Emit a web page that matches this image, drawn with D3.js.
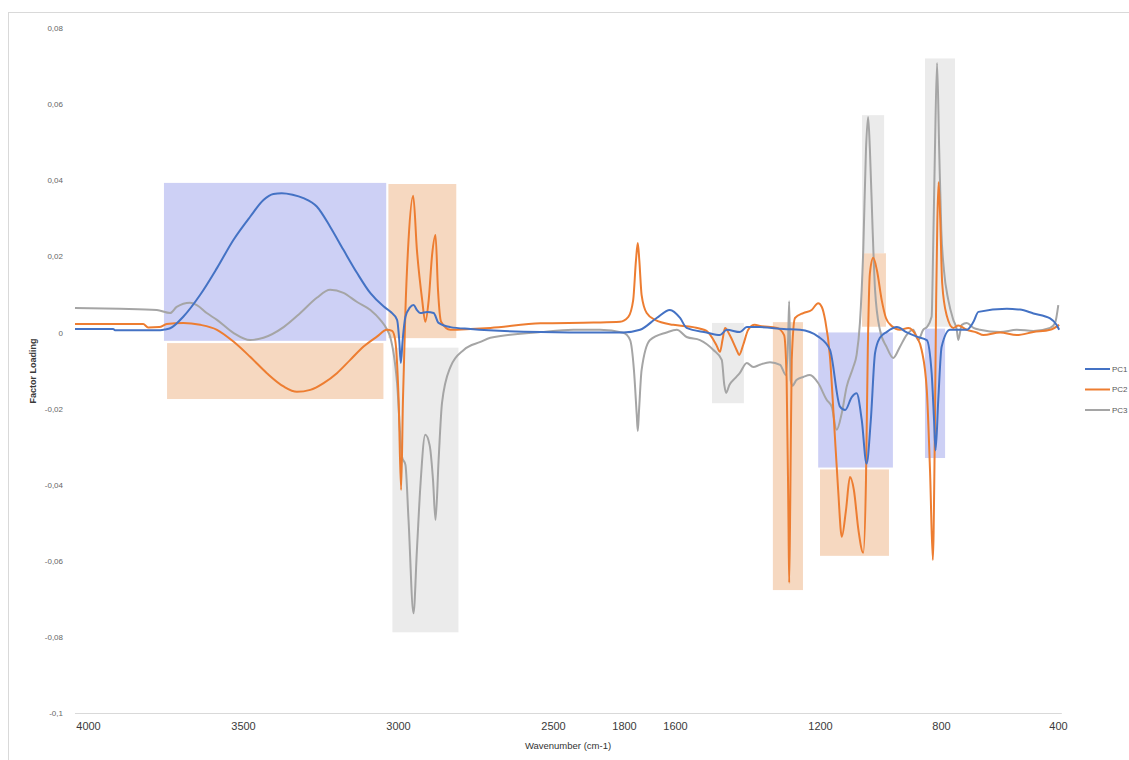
<!DOCTYPE html>
<html>
<head>
<meta charset="utf-8">
<script src="https://cdn.jsdelivr.net/npm/d3@7"></script>
<style>
  html, body { margin: 0; padding: 0; background: #fff; }
  svg { display: block; font-family: "Liberation Sans", Arial, sans-serif; }
</style>
</head>
<body>
<svg id="chart" width="1129" height="760"></svg>
<script>
// Wavenumber axis: label values (the axis is broken, so each label is its own anchor)
const xTickValues = [4000, 3500, 3000, 2500, 1800, 1600, 1200, 800, 400];
const xTickLabels = ["4000", "3500", "3000", "2500", "1800", "1600", "1200", "800", "400"];
const yTickValues = [0.08, 0.06, 0.04, 0.02, 0, -0.02, -0.04, -0.06, -0.08, -0.1];
const yTickLabels = ["0,08", "0,06", "0,04", "0,02", "0", "-0,02", "-0,04", "-0,06", "-0,08", "-0,1"];
const spectrumRange = [4042, 387];
const seriesNames = ["PC1", "PC2", "PC3"];

// Loadings: [wavenumber cm-1, factor loading]
const pc1 = [[4042,0.0009],[3919,0.0009],[3913,0.0006],[3767,0.0006],[3750,0.0008],[3735,0.0011],[3692,0.0042],[3638,0.0099],[3584,0.0169],[3531,0.0243],[3477,0.0304],[3434,0.0348],[3402,0.0364],[3375,0.0366],[3340,0.0362],[3305,0.0353],[3262,0.0331],[3219,0.0278],[3176,0.0217],[3132,0.0156],[3089,0.0103],[3046,0.0068],[3025,0.0055],[3003,0.0033],[2996,-0.002],[2991,-0.008],[2985,-0.002],[2976,0.0041],[2962,0.0065],[2950,0.0072],[2938,0.0058],[2928,0.0051],[2906,0.0054],[2885,0.0051],[2869,0.0025],[2831,0.0014],[2766,0.0009],[2540,0.0001],[2200,0],[1807,0],[1737,0.0007],[1672,0.0038],[1620,0.0059],[1586,0.0038],[1568,0.0012],[1513,0],[1476,-0.0007],[1457,0.0007],[1421,0.0001],[1402,0.0014],[1366,0.0014],[1300,0.0009],[1255,0.0007],[1205,-0.0011],[1167,-0.0046],[1134,-0.0195],[1117,-0.0204],[1095,-0.017],[1079,-0.016],[1062,-0.023],[1046,-0.0345],[1032,-0.023],[1018,-0.0054],[1002,-0.0014],[980,0.0001],[946,0.0014],[913,0],[880,-0.0011],[847,-0.002],[831,-0.0106],[823,-0.023],[818,-0.031],[809,-0.0177],[798,-0.0038],[769,0.0007],[712,0.0007],[689,0.0028],[672,0.0054],[575,0.0062],[530,0.006],[484,0.005],[427,0.0037],[405,0.002],[396,0.0007]];

const pc2 = [[4042,0.0022],[3822,0.0022],[3806,0.0013],[3770,0.0014],[3746,0.0022],[3692,0.0025],[3638,0.002],[3584,0.0007],[3531,-0.0024],[3477,-0.0064],[3423,-0.0107],[3369,-0.0142],[3326,-0.0156],[3283,-0.0151],[3240,-0.0133],[3197,-0.0107],[3154,-0.0072],[3111,-0.0037],[3068,-0.0011],[3036,0.0007],[3019,0.0004],[3009,-0.002],[2998,-0.0177],[2990,-0.0414],[2984,-0.0177],[2976,0.0059],[2966,0.0243],[2951,0.0359],[2939,0.0217],[2922,0.0085],[2912,0.0028],[2901,0.0085],[2890,0.0204],[2879,0.0256],[2871,0.0112],[2861,0.0028],[2831,0.0007],[2766,0.0009],[2702,0.0012],[2540,0.0024],[2100,0.0026],[1839,0.0028],[1783,0.0041],[1764,0.0085],[1753,0.019],[1746,0.0235],[1740,0.019],[1731,0.0099],[1711,0.0051],[1678,0.0033],[1607,0.002],[1550,0.0014],[1513,0.0004],[1486,-0.0033],[1476,-0.0051],[1469,-0.002],[1462,0.0012],[1449,-0.0007],[1430,-0.0046],[1423,-0.0059],[1412,-0.0033],[1398,0.0007],[1380,0.002],[1366,0.0017],[1319,0.0012],[1299,-0.0007],[1292,-0.0125],[1287,-0.0493],[1285,-0.0658],[1282,-0.044],[1278,-0.0072],[1269,0.0038],[1246,0.0051],[1223,0.0059],[1205,0.0077],[1194,0.0067],[1183,0.0033],[1167,-0.0064],[1154,-0.023],[1140,-0.0414],[1128,-0.0537],[1114,-0.0466],[1101,-0.038],[1088,-0.0414],[1073,-0.0519],[1057,-0.0579],[1048,-0.0388],[1042,-0.0046],[1035,0.0156],[1024,0.0196],[1012,0.0164],[996,0.0085],[982,0.0038],[963,0.0017],[936,0.0007],[908,0.0012],[880,-0.0012],[864,-0.0046],[847,-0.0151],[836,-0.037],[827,-0.0598],[821,-0.031],[816,0.0085],[812,0.0296],[808,0.0395],[803,0.0309],[796,0.013],[781,0.0046],[758,0.0012],[741,0.0018],[712,0.0007],[678,0],[655,-0.0007],[598,0],[541,-0.0007],[484,0.0001],[427,0.0007],[396,0.002]];

const pc3 = [[4042,0.0064],[3897,0.0062],[3778,0.0059],[3735,0.0051],[3714,0.0067],[3671,0.0078],[3649,0.0072],[3617,0.0051],[3584,0.0033],[3531,-0.0001],[3477,-0.002],[3434,-0.0014],[3369,0.0014],[3315,0.0051],[3262,0.0091],[3219,0.0112],[3176,0.0104],[3132,0.008],[3089,0.0059],[3057,0.0033],[3035,0.0007],[3025,-0.0012],[3003,-0.0133],[2987,-0.0327],[2976,-0.0348],[2966,-0.0493],[2950,-0.0738],[2939,-0.0572],[2928,-0.0406],[2912,-0.0269],[2898,-0.0296],[2887,-0.0388],[2879,-0.0493],[2869,-0.0335],[2858,-0.0185],[2831,-0.0091],[2788,-0.0046],[2734,-0.0025],[2702,-0.0014],[2540,0.0001],[2300,0.0007],[2037,0.0007],[1807,-0.0001],[1776,-0.002],[1761,-0.0099],[1750,-0.0217],[1746,-0.0259],[1741,-0.0204],[1731,-0.0099],[1698,-0.002],[1633,0],[1595,0.0007],[1568,-0.0012],[1531,-0.002],[1494,-0.0046],[1471,-0.0072],[1464,-0.0138],[1459,-0.0159],[1450,-0.0138],[1434,-0.012],[1421,-0.0106],[1402,-0.008],[1384,-0.0091],[1366,-0.0085],[1338,-0.0078],[1310,-0.0085],[1294,-0.0112],[1288,-0.002],[1285,0.0082],[1281,-0.0125],[1276,-0.014],[1265,-0.0125],[1246,-0.0117],[1228,-0.0112],[1205,-0.0133],[1178,-0.0177],[1161,-0.0196],[1145,-0.0256],[1128,-0.0212],[1112,-0.0143],[1090,-0.0091],[1079,-0.0059],[1068,0.0025],[1057,0.0217],[1048,0.048],[1041,0.0566],[1035,0.048],[1026,0.0269],[1018,0.0112],[1002,0.0007],[980,-0.0038],[958,-0.0067],[936,-0.0038],[914,-0.0007],[892,0.0007],[875,-0.002],[859,0.0007],[847,0.0014],[831,0.0041],[826,0.0217],[820,0.048],[813,0.0708],[806,0.048],[799,0.0269],[790,0.0164],[775,0.0085],[758,0.0033],[746,0.0007],[741,-0.002],[729,0.002],[712,0.0025],[689,0.0012],[667,0.0007],[598,0.0001],[541,0.0007],[484,0.0004],[427,0.0012],[410,0.0025],[399,0.0072]];

// Highlighted spectral windows: [series, from cm-1, to cm-1, upper loading, lower loading]
const bands = [
  ["PC1", 3755, 3038, 0.0393, -0.0022],
  ["PC2", 3745, 3047, -0.0028, -0.0175],
  ["PC2", 3031, 2812, 0.039, -0.0015],
  ["PC3", 3018, 2805, -0.004, -0.0788],
  ["PC3", 1498, 1410, 0.0025, -0.0186],
  ["PC2", 1330, 1247, 0.0027, -0.0677],
  ["PC1", 1205, 959, 0, -0.0355],
  ["PC2", 1200, 972, -0.036, -0.0587],
  ["PC3", 1061, 988, 0.0571, 0.0208],
  ["PC2", 1061, 982, 0.0208, 0.0015],
  ["PC3", 853, 752, 0.072, 0.0015],
  ["PC1", 853, 786, 0.001, -0.033]
];

const lineColor = { PC1: "#4472C4", PC2: "#ED7D31", PC3: "#A5A5A5" };
const bandColor = { PC1: "#cdd0f5", PC2: "#f6d8c0", PC3: "#ebebeb" };

const svg = d3.select("#chart");

svg.append("rect")
  .attr("x", 8.5).attr("y", 12.5)
  .attr("width", 1130).attr("height", 760)
  .attr("fill", "#fff").attr("stroke", "#d9d9d9");

// Broken wavenumber axis as a piecewise-linear scale
const x = d3.scaleLinear()
  .domain(xTickValues.filter((d, i) => [0, 3, 4, 5, 6, 7, 8].includes(i)))
  .range([88, 553, 624, 675, 820, 941, 1058]);

const y = d3.scaleLinear().domain([-0.1, 0.08]).range([713, 28]);

// Highlight windows
svg.append("g").selectAll("rect").data(bands).join("rect")
  .attr("x", d => x(d[1]))
  .attr("width", d => x(d[2]) - x(d[1]))
  .attr("y", d => y(d[3]))
  .attr("height", d => y(d[4]) - y(d[3]))
  .attr("fill", d => bandColor[d[0]]);

// Bottom axis line
svg.append("line")
  .attr("x1", x(spectrumRange[0])).attr("x2", x(spectrumRange[1]))
  .attr("y1", y(-0.1) + 0.5).attr("y2", y(-0.1) + 0.5)
  .attr("stroke", "#d9d9d9").attr("stroke-width", 1);

// X tick labels
const xAxis = d3.axisBottom(x)
  .tickValues(xTickValues)
  .tickFormat((d, i) => xTickLabels[i])
  .tickSize(0).tickPadding(9);
const gx = svg.append("g").attr("transform", `translate(0,${y(-0.1)})`).call(xAxis);
gx.select(".domain").remove();
gx.selectAll("text")
  .attr("font-size", 11).attr("fill", "#3a3a3a")
  .attr("font-family", "'Liberation Sans', Arial, sans-serif");

// Y tick labels
const yAxis = d3.axisLeft(y)
  .tickValues(yTickValues)
  .tickFormat((d, i) => yTickLabels[i])
  .tickSize(0).tickPadding(0);
const gy = svg.append("g").attr("transform", "translate(63,0)").call(yAxis);
gy.select(".domain").remove();
gy.selectAll("text")
  .attr("font-size", 8).attr("fill", "#666")
  .attr("font-family", "'Liberation Sans', Arial, sans-serif");

// Axis titles
svg.append("text")
  .attr("x", 568).attr("y", 749)
  .attr("text-anchor", "middle")
  .attr("font-size", 9.5).attr("fill", "#333")
  .text("Wavenumber (cm-1)");

svg.append("text")
  .attr("transform", "translate(36,371) rotate(-90)")
  .attr("text-anchor", "middle")
  .attr("font-size", 9).attr("font-weight", "bold").attr("fill", "#3a3a3a")
  .text("Factor Loading");

// Loading curves
const line = d3.line()
  .x(d => x(d[0]))
  .y(d => y(d[1]))
  .curve(d3.curveMonotoneX);

const seriesData = { PC1: pc1, PC2: pc2, PC3: pc3 };
["PC3", "PC2", "PC1"].forEach(name => {
  svg.append("path")
    .datum(seriesData[name])
    .attr("fill", "none")
    .attr("stroke", lineColor[name])
    .attr("stroke-width", 2)
    .attr("stroke-linejoin", "round")
    .attr("d", line);
});

// Legend
const legend = svg.append("g");
seriesNames.forEach((name, i) => {
  const ly = 369 + i * 20.5;
  legend.append("line")
    .attr("x1", 1085).attr("x2", 1110)
    .attr("y1", ly).attr("y2", ly)
    .attr("stroke", lineColor[name]).attr("stroke-width", 2);
  legend.append("text")
    .attr("x", 1112).attr("y", ly).attr("dy", "0.35em")
    .attr("font-size", 8).attr("fill", "#595959")
    .text(name);
});
</script>
</body>
</html>
